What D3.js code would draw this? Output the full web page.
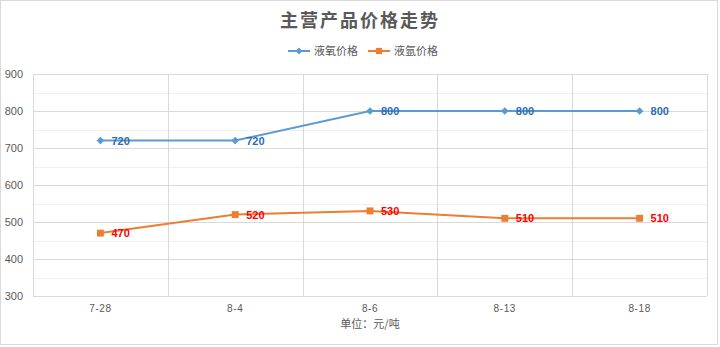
<!DOCTYPE html>
<html>
<head>
<meta charset="utf-8">
<script src="https://cdn.jsdelivr.net/npm/d3@7/dist/d3.min.js"></script>
<style>
  html, body { margin: 0; padding: 0; background: #fff; }
  svg { display: block; font-family: "Microsoft YaHei", "Noto Sans CJK SC", "DejaVu Sans", sans-serif; }
</style>
</head>
<body>
<svg id="chart" width="720" height="347"></svg>
<script>
// Dates on the category axis
const categories = ["7-28", "8-4", "8-6", "8-13", "8-18"];
// Liquid oxygen price (元/吨)
const oxygenPrice = [720, 720, 800, 800, 800];
// Liquid argon price (元/吨)
const argonPrice = [470, 520, 530, 510, 510];
// Value axis ticks
const yTicks = [300, 400, 500, 600, 700, 800, 900];
const yMinorTicks = [350, 450, 550, 650, 750, 850];

const svg = d3.select("#chart");
const plot = { left: 33, right: 707, top: 74, bottom: 296 };

// Outer chart frame
svg.append("rect")
  .attr("x", 0.5).attr("y", 0.5).attr("width", 717).attr("height", 344)
  .attr("fill", "#fff").attr("stroke", "#d9d9d9");

const x = d3.scaleBand().domain(categories).range([plot.left, plot.right]);
const y = d3.scaleLinear().domain([300, 900]).range([plot.bottom, plot.top]);

// Minor horizontal gridlines
svg.append("g").selectAll("line").data(yMinorTicks).join("line")
  .attr("x1", plot.left).attr("x2", plot.right)
  .attr("y1", d => Math.round(y(d)) + 0.5).attr("y2", d => Math.round(y(d)) + 0.5)
  .attr("stroke", "#f0f0f0").attr("stroke-width", 1);

// Major horizontal gridlines
svg.append("g").selectAll("line").data(yTicks).join("line")
  .attr("x1", plot.left).attr("x2", plot.right)
  .attr("y1", d => Math.round(y(d)) + 0.5).attr("y2", d => Math.round(y(d)) + 0.5)
  .attr("stroke", "#d9d9d9").attr("stroke-width", 1);

// Vertical category separators (including plot edges)
const vEdges = categories.map(c => x(c)).concat([plot.right]);
svg.append("g").selectAll("line").data(vEdges).join("line")
  .attr("x1", d => Math.round(d) + 0.5).attr("x2", d => Math.round(d) + 0.5)
  .attr("y1", plot.top).attr("y2", plot.bottom)
  .attr("stroke", "#d9d9d9").attr("stroke-width", 1);

// Y axis labels
const yAxis = d3.axisLeft(y).tickValues(yTicks).tickSize(0).tickPadding(10);
const gy = svg.append("g").attr("transform", `translate(${plot.left},0)`).call(yAxis);
gy.select(".domain").remove();
gy.selectAll("text").attr("fill", "#595959").style("font-size", "11px")
  .style("font-family", "'Liberation Sans', Arial, sans-serif");

// X axis labels
const xAxis = d3.axisBottom(x).tickSize(0).tickPadding(9);
const gx = svg.append("g").attr("transform", `translate(0,${plot.bottom})`).call(xAxis);
gx.select(".domain").remove();
gx.selectAll("text").attr("fill", "#595959").style("font-size", "10px")
  .style("letter-spacing", "0.6px")
  .style("font-family", "'Liberation Sans', Arial, sans-serif");

// Axis title
svg.append("text").attr("x", 370).attr("y", 328).attr("text-anchor", "middle")
  .attr("fill", "#595959").style("font-size", "11px").text("单位：元/吨");

// Chart title
svg.append("text").attr("x", 360).attr("y", 27).attr("text-anchor", "middle")
  .attr("fill", "#595959").style("font-size", "18px").style("font-weight", "bold")
  .style("letter-spacing", "2px").text("主营产品价格走势");

const cx = c => x(c) + x.bandwidth() / 2;
const series = [
  { name: "液氧价格", values: oxygenPrice, color: "#5B9BD5", labelColor: "#2E6DB4", shape: d3.symbolSquare, size: 30, rotate: 45 },
  { name: "液氩价格", values: argonPrice, color: "#ED7D31", labelColor: "#FF0000", shape: d3.symbolSquare, size: 48, rotate: 0 }
];

const line = d3.line().x((d, i) => cx(categories[i])).y(d => y(d));

series.forEach(s => {
  const g = svg.append("g");
  g.append("path").datum(s.values).attr("d", line)
    .attr("fill", "none").attr("stroke", s.color).attr("stroke-width", 2);
  g.selectAll("path.pt").data(s.values).join("path").attr("class", "pt")
    .attr("d", d3.symbol().type(s.shape).size(s.size))
    .attr("transform", (d, i) => `translate(${cx(categories[i])},${y(d)}) rotate(${s.rotate})`)
    .attr("fill", s.color);
  g.selectAll("text").data(s.values).join("text")
    .attr("x", (d, i) => cx(categories[i]) + 11)
    .attr("y", d => y(d)).attr("dy", "0.36em")
    .attr("fill", s.labelColor).style("font-size", "11px").style("font-weight", "bold")
    .style("font-family", "'Liberation Sans', Arial, sans-serif")
    .text(d => d);
});

// Legend
const legend = svg.append("g");
const legendItems = [
  { s: series[0], x: 288 },
  { s: series[1], x: 368 }
];
legendItems.forEach(({ s, x: lx }) => {
  legend.append("line").attr("x1", lx).attr("x2", lx + 22).attr("y1", 51).attr("y2", 51)
    .attr("stroke", s.color).attr("stroke-width", 2);
  legend.append("path").attr("d", d3.symbol().type(s.shape).size(s.size * 0.8))
    .attr("transform", `translate(${lx + 11},51) rotate(${s.rotate})`).attr("fill", s.color);
  legend.append("text").attr("x", lx + 26).attr("y", 51).attr("dy", "0.36em")
    .attr("fill", "#595959").style("font-size", "11px").text(s.name);
});
</script>
</body>
</html>
